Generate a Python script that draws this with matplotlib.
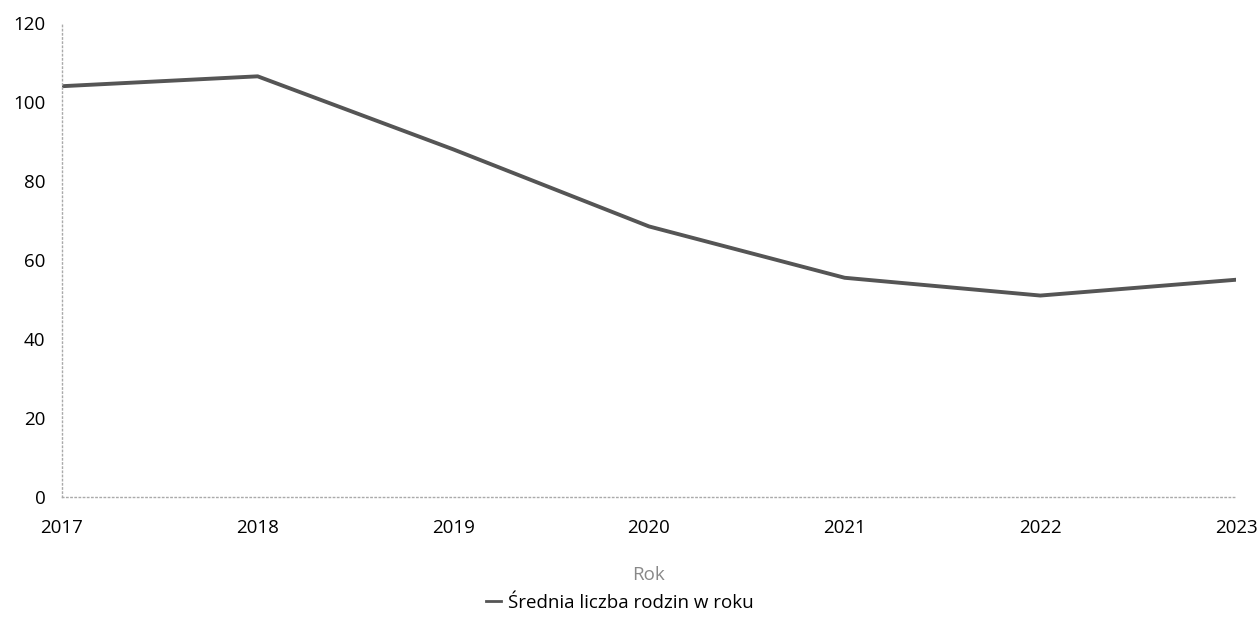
import matplotlib.pyplot as plt

# Średnia liczba rodzin w roku
lata = [2017, 2018, 2019, 2020, 2021, 2022, 2023]
srednia = [104, 106.5, 88, 68.5, 55.5, 51, 55]
y_ticks = [0, 20, 40, 60, 80, 100, 120]

plt.rcParams['font.family'] = ['Open Sans', 'DejaVu Sans']

fig = plt.figure(figsize=(12.58, 6.26), dpi=100)
ax = fig.add_axes([62 / 1258, 1 - 497 / 626, (1236 - 62) / 1258, (497 - 23) / 626])

ax.plot(lata, srednia, color='#555555', linewidth=2.8, label='Średnia liczba rodzin w roku')

ax.set_xlim(2017, 2023)
ax.set_ylim(0, 120)
ax.set_xticks(lata)
ax.set_yticks(y_ticks)
ax.tick_params(length=0, labelsize=13.5, colors='black')
ax.tick_params(axis='x', pad=16)
ax.tick_params(axis='y', pad=12)

for s in ['top', 'right']:
    ax.spines[s].set_visible(False)
for s in ['left', 'bottom']:
    ax.spines[s].set_color('#aaaaaa')
    ax.spines[s].set_linestyle((0, (1, 2)))
    ax.spines[s].set_linewidth(1)

ax.set_xlabel('Rok', fontsize=13.5, color='#888888', labelpad=21)

leg = fig.legend(loc='center', bbox_to_anchor=(620 / 1258, 1 - 603 / 626), frameon=False,
                 fontsize=13.5, handlelength=0.8, handletextpad=0.4)
for h in leg.get_lines():
    h.set_linewidth(2)

fig.savefig('out.png', dpi=100, facecolor='white')
